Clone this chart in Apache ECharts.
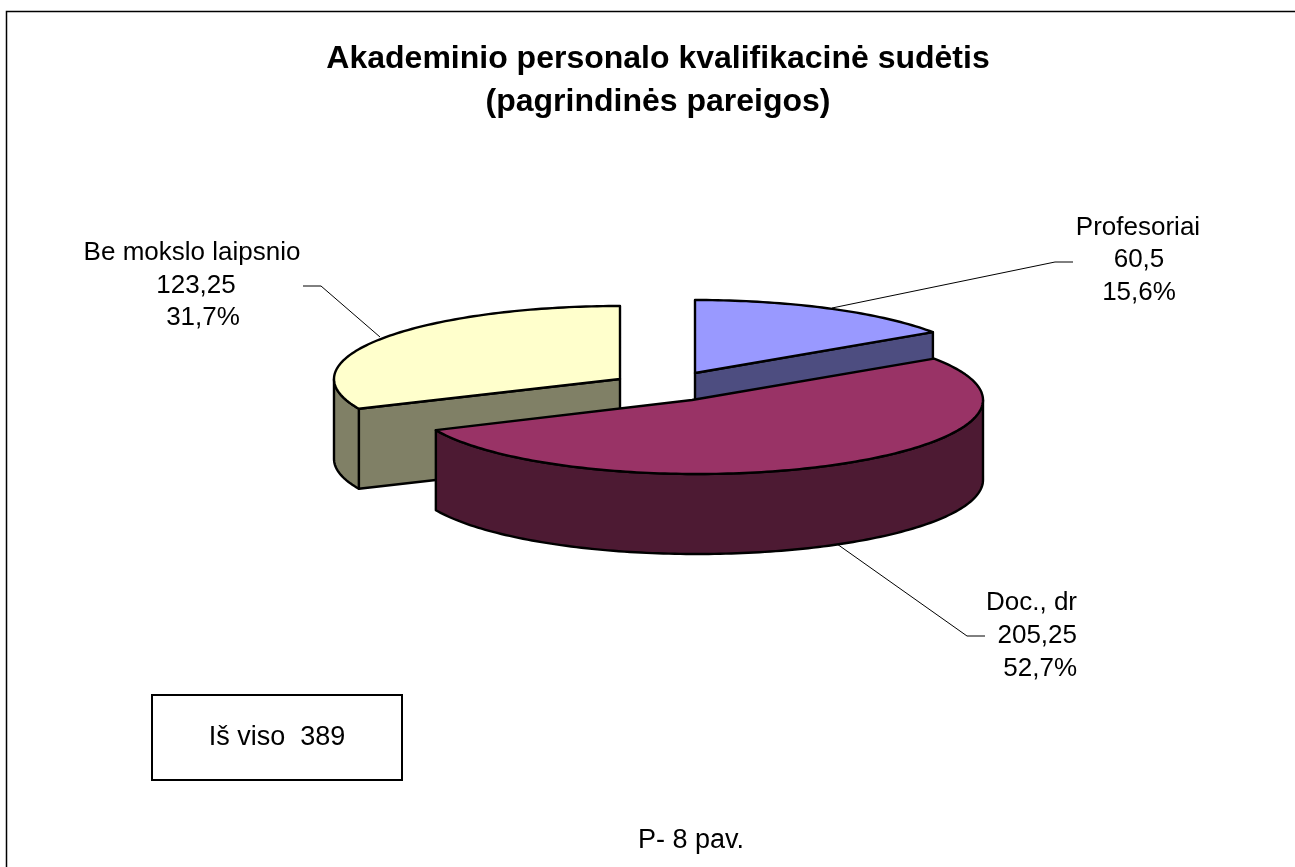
<!DOCTYPE html>
<html>
<head>
<meta charset="utf-8">
<style>html,body{margin:0;padding:0;background:#fff}#c{width:1295px;height:867px}</style>
<script src="https://cdn.jsdelivr.net/npm/echarts@6/dist/echarts.min.js"></script>
</head>
<body>
<div id="c"></div>
<script>
// ---- data ----
const categories = ['Profesoriai', 'Doc., dr', 'Be mokslo laipsnio'];
const values = [60.5, 205.25, 123.25];
const valueLabels = ['60,5', '205,25', '123,25'];
const percentLabels = ['15,6%', '52,7%', '31,7%'];
const titleLines = ['Akademinio personalo kvalifikacinė sudėtis', '(pagrindinės pareigos)'];
const totalLabel = 'Iš viso  389';
const captionLabel = 'P- 8 pav.';

// ---- layout & style ----
const FONT = '"Liberation Sans", Arial, sans-serif';
const DEPTH = 80;
const sliceLayout = [
  {cx: 695, cy: 373, a: 287, b: 73, ax: 695, ay: 373, top: '#9999FF', side: '#4D4D80', z: 1},
  {cx: 697, cy: 400, a: 286, b: 74, ax: 692, ay: 400, top: '#993366', side: '#4D1A33', z: 3},
  {cx: 620, cy: 379, a: 286, b: 73, ax: 620, ay: 379, top: '#FFFFCC', side: '#808066', z: 0}
];
const labelLayout = [
  [[1138, 228, 'center'], [1139, 260, 'center'], [1139, 293, 'center']],
  [[1077, 603, 'right'], [1077, 636, 'right'], [1077, 669, 'right']],
  [[192, 253, 'center'], [196, 286, 'center'], [203, 318, 'center']]
];
const leaderLayout = [
  [[832, 308], [1055, 262], [1073, 262]],
  [[837, 544], [967, 636], [985, 636]],
  [[380, 337], [321, 286], [303, 286]]
];

const total = values.reduce((s, v) => s + v, 0);
const startAngles = values.map((_, i) => values.slice(0, i).reduce((s, v) => s + v, 0) / total * Math.PI * 2);

function arc(l, from, to, dy) {
  const n = Math.max(2, Math.ceil(Math.abs(to - from) / 0.02));
  const pts = [];
  for (let k = 0; k <= n; k++) {
    const t = from + (to - from) * k / n;
    pts.push([l.cx + l.a * Math.sin(t), l.cy - l.b * Math.cos(t) + (dy || 0)]);
  }
  return pts;
}
function poly(points, fill, z2) {
  return {type: 'polygon', z2, shape: {points},
    style: {fill, stroke: '#000', lineWidth: 2.4, lineJoin: 'round'}};
}
function renderSlice(params, api) {
  const i = params.dataIndex, l = sliceLayout[i];
  const from = startAngles[i], to = from + api.value(0) / total * Math.PI * 2;
  const children = [];
  const apex = [l.ax, l.ay];
  const drop = p => [p[0], p[1] + DEPTH];
  const P = t => [l.cx + l.a * Math.sin(t), l.cy - l.b * Math.cos(t)];

  // flat cut faces, only where they look towards the viewer
  const cut = t => poly([apex, P(t), drop(P(t)), drop(apex)], l.side, l.z * 10 + 1);
  if (from > Math.PI) children.push(cut(from));
  if (to < Math.PI) children.push(cut(to));

  // curved outer wall (visible between 90 deg and 270 deg)
  const wallFrom = Math.max(from, Math.PI / 2), wallTo = Math.min(to, Math.PI * 1.5);
  if (wallTo > wallFrom) {
    const upper = arc(l, wallFrom, wallTo, 0), lower = arc(l, wallTo, wallFrom, DEPTH);
    children.push(poly(upper.concat(lower), l.side, l.z * 10 + 2));
  }
  // top face
  children.push(poly([apex].concat(arc(l, from, to, 0)), l.top, l.z * 10 + 3));

  // leader line and label
  children.push({type: 'polyline', z2: l.z * 10, shape: {points: leaderLayout[i]},
    style: {fill: null, stroke: '#000', lineWidth: 1}});
  const lines = [categories[i], valueLabels[i], percentLabels[i]];
  lines.forEach((text, k) => {
    const [x, y, align] = labelLayout[i][k];
    children.push({type: 'text', z2: 70, style: {text, x, y, fill: '#000',
      font: '26px ' + FONT, textAlign: align, textVerticalAlign: 'middle'}});
  });
  return {type: 'group', children};
}

const chart = echarts.init(document.getElementById('c'), null, {renderer: 'canvas'});
chart.setOption({
  animation: false,
  backgroundColor: '#fff',
  title: {
    text: titleLines.join('\n'),
    left: 653, top: 33, textAlign: 'center',
    textStyle: {fontFamily: FONT, fontWeight: 'bold', fontSize: 32, lineHeight: 43, color: '#000'}
  },
  graphic: [
    {type: 'polyline', shape: {points: [[6.5, 867], [6.5, 11.5], [1295, 11.5]]},
      style: {fill: null, stroke: '#000', lineWidth: 1.5}},
    {type: 'rect', shape: {x: 152, y: 695, width: 250, height: 85},
      style: {fill: '#fff', stroke: '#000', lineWidth: 2}},
    {type: 'text', style: {text: totalLabel, x: 277, y: 738, fill: '#000',
      font: '27px ' + FONT, textAlign: 'center', textVerticalAlign: 'middle'}},
    {type: 'text', style: {text: captionLabel, x: 691, y: 841, fill: '#000',
      font: '27px ' + FONT, textAlign: 'center', textVerticalAlign: 'middle'}}
  ],
  series: [{
    type: 'custom',
    coordinateSystem: 'none',
    renderItem: renderSlice,
    data: values.map((v, i) => ({name: categories[i], value: [v]}))
  }]
});
</script>
</body>
</html>
